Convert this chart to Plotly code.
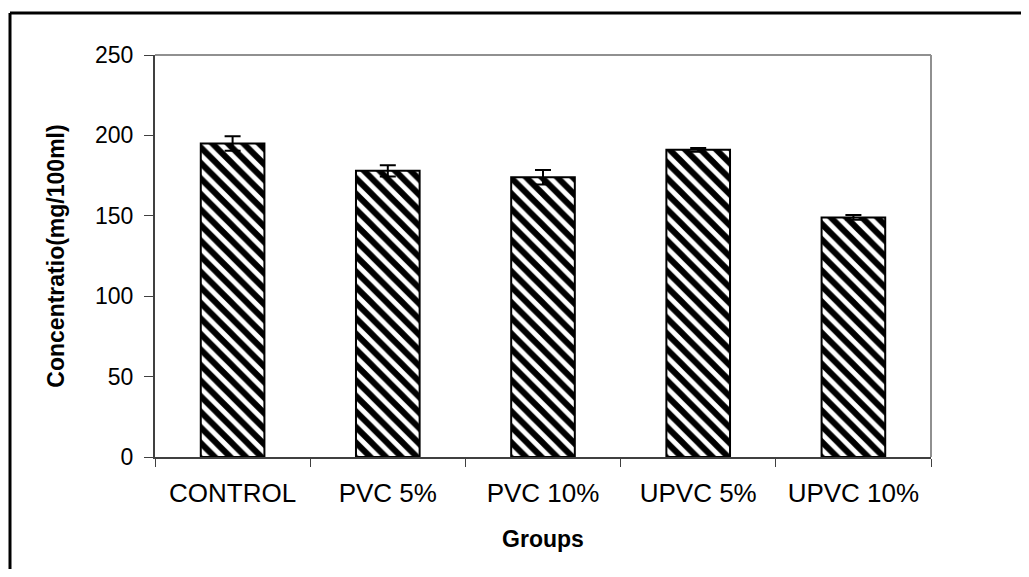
import plotly.graph_objects as go

groups = ["CONTROL", "PVC 5%", "PVC 10%", "UPVC 5%", "UPVC 10%"]
concentration = [195, 178, 174, 191, 149]
error = [4.5, 3.5, 4.5, 1.2, 1.5]
y_ticks = [0, 50, 100, 150, 200, 250]

fig = go.Figure()
fig.add_trace(go.Bar(
    x=groups,
    y=concentration,
    width=0.41,
    marker=dict(
        color="white",
        line=dict(color="black", width=2),
        pattern=dict(shape="\\", size=11, solidity=0.55, fgcolor="black",
                     bgcolor="white", fgopacity=1, fillmode="replace"),
    ),
    error_y=dict(type="data", array=error, visible=True, color="black", thickness=2, width=8),
    showlegend=False,
))

# page body adds an 8px offset; plot area targets: x 155..931, y 55..457 (window coords)
fig.update_layout(
    width=1013,
    height=561,
    margin=dict(l=147, r=90, t=47, b=112),
    paper_bgcolor="white",
    plot_bgcolor="white",
    font=dict(family="Liberation Sans, Arial, sans-serif", color="black"),
)

fig.update_xaxes(
    showline=True, linecolor="#404040", linewidth=2,
    ticks="outside", tickson="boundaries", ticklen=8, tickcolor="#404040", tickwidth=1,
    tickfont=dict(size=26), ticklabelstandoff=12,
    showgrid=False,
    title=dict(text="<b>Groups</b>", font=dict(size=23), standoff=24),
)
fig.update_yaxes(
    range=[0, 250], tickvals=y_ticks,
    showline=True, linecolor="#404040", linewidth=2,
    ticks="outside", ticklen=9, tickcolor="#404040", tickwidth=1,
    tickfont=dict(size=23), ticklabelstandoff=6,
    showgrid=False, zeroline=False,
    title=dict(text="<b>Concentratio(mg/100ml)</b>", font=dict(size=23), standoff=24),
)

# plot-area frame (top and right) in grey
fig.add_shape(type="line", xref="paper", yref="paper", x0=0, x1=1, y0=1, y1=1,
              line=dict(color="#909090", width=2))
fig.add_shape(type="line", xref="paper", yref="paper", x0=1, x1=1, y0=0, y1=1,
              line=dict(color="#909090", width=2))

# outer chart border (black)
fig.add_shape(type="line", xref="paper", yref="paper",
              x0=(10 - 155) / 776, x1=(1040 - 155) / 776,
              y0=(457 - 13) / 402, y1=(457 - 13) / 402,
              line=dict(color="black", width=3))
fig.add_shape(type="line", xref="paper", yref="paper",
              x0=(10 - 155) / 776, x1=(10 - 155) / 776,
              y0=(457 - 13) / 402, y1=(457 - 590) / 402,
              line=dict(color="black", width=3))

fig.write_html("out.html")
